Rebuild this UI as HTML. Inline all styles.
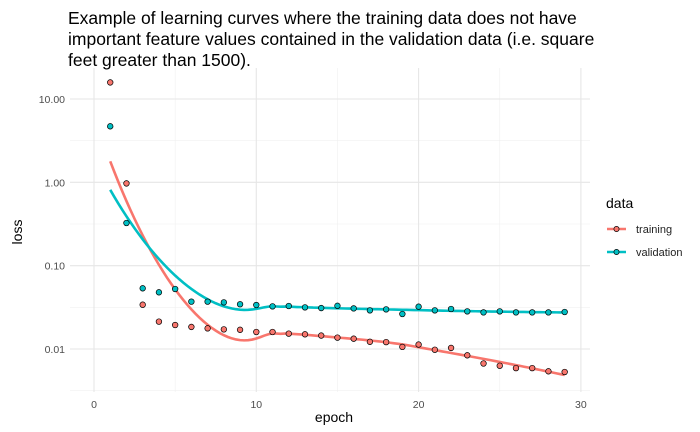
<!DOCTYPE html>
<html><head><meta charset="utf-8"><style>
body{margin:0;background:#fff;}
svg{display:block;font-family:"Liberation Sans",Arial,sans-serif;}
</style></head><body>
<svg id="chart" width="700" height="432">
<g font-size="17.5" fill="#000">
<text x="68" y="24">Example of learning curves where the training data does not have</text>
<text x="68" y="45">important feature values contained in the validation data (i.e. square</text>
<text x="68" y="66">feet greater than 1500).</text>
</g>
<g id="grid"></g><g id="marks"></g><g id="axes"></g>
<text x="334" y="422" font-size="14" text-anchor="middle">epoch</text>
<text transform="translate(22,232) rotate(-90)" font-size="14" text-anchor="middle">loss</text>
<g>
<text x="606" y="208" font-size="14">data</text>
<g>
<line x1="607" y1="229" x2="626" y2="229" stroke="#F8766D" stroke-width="2.5"/>
<circle cx="616.5" cy="229" r="2.6" fill="#F8766D" stroke="#000" stroke-width="0.7"/>
<text x="636" y="233" font-size="11" fill="#222">training</text></g>
<g>
<line x1="607" y1="252" x2="626" y2="252" stroke="#00BFC4" stroke-width="2.5"/>
<circle cx="616.5" cy="252" r="2.6" fill="#00BFC4" stroke="#000" stroke-width="0.7"/>
<text x="636" y="256" font-size="11" fill="#222">validation</text></g>
</g>
</svg>
<script>
const epochs=[1,2,3,4,5,6,7,8,9,10,11,12,13,14,15,16,17,18,19,20,21,22,23,24,25,26,27,28,29];
const trainingLoss=[15.8,0.97,0.034,0.0213,0.0194,0.0184,0.0177,0.0172,0.017,0.016,0.016,0.0153,0.015,0.0145,0.0137,0.0133,0.0122,0.0121,0.0106,0.0113,0.0098,0.0103,0.0084,0.0067,0.0063,0.0059,0.0059,0.0054,0.0053];
const validationLoss=[4.7,0.325,0.0535,0.0479,0.0525,0.037,0.037,0.0363,0.0344,0.0337,0.0325,0.0328,0.0316,0.031,0.033,0.0307,0.0291,0.0299,0.0263,0.0322,0.0291,0.0302,0.0283,0.0275,0.0283,0.0275,0.0275,0.0275,0.0278];
const xTicks=[0,10,20,30];
const xMinor=[5,15,25];
const yTicks=[0.01,0.1,1,10];
const yTickLabels=["0.01","0.10","1.00","10.00"];
const NS="http://www.w3.org/2000/svg";
const PL=70,PR=590,PT=68,PB=392;
const X0=94,XS=16.23;
function xs(v){return X0+v*XS;}
function ys(v){return 349-(Math.log10(v)+2)*83.333;}
function mk(t,a,p){const e=document.createElementNS(NS,t);for(const k in a)e.setAttribute(k,a[k]);(p||document.getElementById('marks')).appendChild(e);return e;}
const grid=document.getElementById('grid'),axes=document.getElementById('axes');
xMinor.forEach(v=>{const l=mk('line',{x1:xs(v),x2:xs(v),y1:PT,y2:PB,stroke:'#f0f0f0','stroke-width':0.6},grid);

});
yTicks.forEach(v=>{const yy=ys(v*Math.sqrt(10));if(yy>PT){const l=mk('line',{x1:PL,x2:PR,y1:yy,y2:yy,stroke:'#f0f0f0','stroke-width':0.6},grid);

}});
{const yy=ys(0.01/Math.sqrt(10));const l=mk('line',{x1:PL,x2:PR,y1:yy,y2:yy,stroke:'#f0f0f0','stroke-width':0.6},grid);

}
xTicks.forEach(v=>{const l=mk('line',{x1:xs(v),x2:xs(v),y1:PT,y2:PB,stroke:'#e6e6e6','stroke-width':1.1},grid);


const t=mk('text',{x:xs(v),y:408,'font-size':10.5,fill:'#4d4d4d','text-anchor':'middle'},axes);t.textContent=v;

});
yTicks.forEach((v,i)=>{const l=mk('line',{x1:PL,x2:PR,y1:ys(v),y2:ys(v),stroke:'#e6e6e6','stroke-width':1.1},grid);


const t=mk('text',{x:65,y:ys(v)+4,'font-size':10.5,fill:'#4d4d4d','text-anchor':'end'},axes);t.textContent=yTickLabels[i];

});
// loess (span .75, degree 2) in log space
function loess(xv,yv,x0){const n=xv.length,q=Math.floor(0.75*n);
const d=xv.map(x=>Math.abs(x-x0)).slice().sort((a,b)=>a-b);let h=d[q-1];h=Math.max(h,1e-9)*1.0000001;
let S=[[0,0,0],[0,0,0],[0,0,0]],B=[0,0,0];
for(let i=0;i<n;i++){const u=Math.abs(xv[i]-x0)/h;if(u>=1)continue;const w=Math.pow(1-u*u*u,3);const dx=xv[i]-x0;const p=[1,dx,dx*dx];
for(let a=0;a<3;a++){B[a]+=w*p[a]*yv[i];for(let b=0;b<3;b++)S[a][b]+=w*p[a]*p[b];}}
// solve 3x3
const M=S.map((r,i)=>r.concat([B[i]]));for(let c=0;c<3;c++){let m=c;for(let r=c+1;r<3;r++)if(Math.abs(M[r][c])>Math.abs(M[m][c]))m=r;[M[c],M[m]]=[M[m],M[c]];
for(let r=0;r<3;r++)if(r!==c){const f=M[r][c]/M[c][c];for(let k=c;k<4;k++)M[r][k]-=f*M[c][k];}}
return M[0][3]/M[0][0];}
const marks=document.getElementById('marks');
function series(vals,color,name){const lv=vals.map(v=>Math.log10(v));let d='';
for(let i=0;i<=112;i++){const x=epochs[0]+(epochs[epochs.length-1]-epochs[0])*i/112;const y=Math.pow(10,loess(epochs,lv,x));d+=(i?'L':'M')+xs(x).toFixed(2)+','+ys(y).toFixed(2);}
const p=mk('path',{d:d,fill:'none',stroke:color,'stroke-width':2.6},marks);


return ()=>vals.forEach((v,i)=>{const c=mk('circle',{cx:xs(epochs[i]),cy:ys(v),r:2.8,fill:color,stroke:'#000','stroke-width':0.7},marks);

});}
const pt=series(trainingLoss,'#F8766D','training');
const pv=series(validationLoss,'#00BFC4','validation');
pt();pv();
</script>
</body></html>
